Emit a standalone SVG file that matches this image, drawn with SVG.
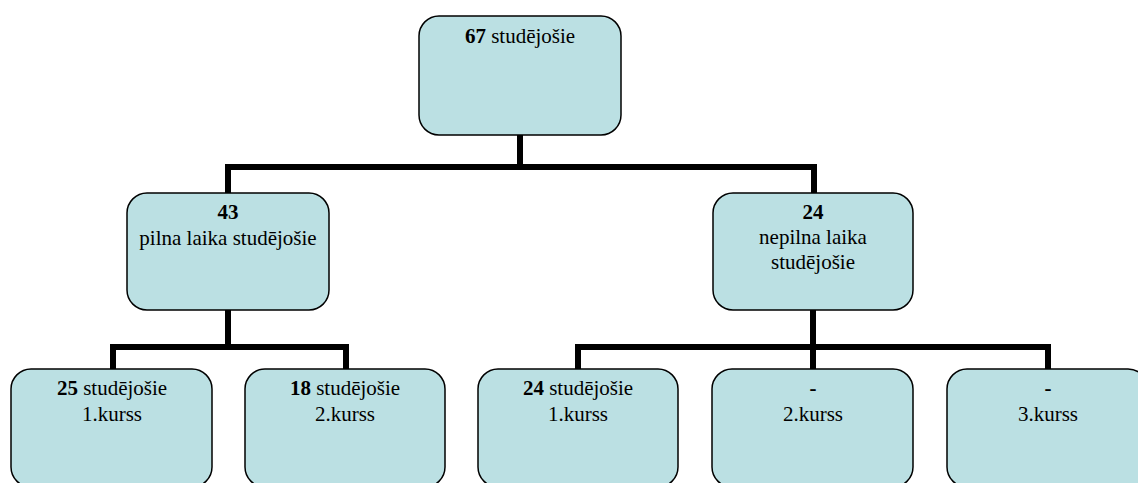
<svg xmlns="http://www.w3.org/2000/svg" width="1138" height="483" viewBox="0 0 1138 483">
<style>
.box{fill:#bbe0e3;stroke:#000;stroke-width:1.5}
.t{font-family:'Liberation Serif','Tinos','Noto Serif','DejaVu Serif',serif;font-size:21px;fill:#000;text-anchor:middle}
.b{font-weight:bold}
.c{fill:none;stroke:#000;stroke-width:6;stroke-linejoin:miter;stroke-linecap:butt}
</style>
<rect width="1138" height="483" fill="#fff"/>
<g id="connectors">
<path class="c" d="M520 135V167M228 193V167H814V193"/>
<path class="c" d="M228 310V347M113 369V347H346V369"/>
<path class="c" d="M813 310V347M578 369V347H1048V369M813 347V369"/>
</g>
<g id="n67">
<rect class="box" x="419" y="16" width="202" height="119" rx="20"/>
<text class="t" x="520" y="43"><tspan class="b">67</tspan> studējošie</text>
</g>
<g id="n43">
<rect class="box" x="127" y="193" width="202" height="117" rx="20"/>
<text class="t" x="228" y="219"><tspan class="b">43</tspan><tspan x="228" dy="26">pilna laika studējošie</tspan></text>
</g>
<g id="n24">
<rect class="box" x="713" y="193" width="200" height="117" rx="20"/>
<text class="t" x="813" y="219"><tspan class="b">24</tspan><tspan x="813" dy="25">nepilna laika</tspan><tspan x="813" dy="25">studējošie</tspan></text>
</g>
<g id="n25">
<rect class="box" x="11" y="369" width="201" height="118" rx="20"/>
<text class="t" x="112" y="395"><tspan class="b">25</tspan> studējošie<tspan x="112" dy="26">1.kurss</tspan></text>
</g>
<g id="n18">
<rect class="box" x="245" y="369" width="200" height="118" rx="20"/>
<text class="t" x="345" y="395"><tspan class="b">18</tspan> studējošie<tspan x="345" dy="26">2.kurss</tspan></text>
</g>
<g id="n24a">
<rect class="box" x="478" y="369" width="200" height="118" rx="20"/>
<text class="t" x="578" y="395"><tspan class="b">24</tspan> studējošie<tspan x="578" dy="26">1.kurss</tspan></text>
</g>
<g id="n2k">
<rect class="box" x="712" y="369" width="201" height="118" rx="20"/>
<text class="t" x="813" y="395"><tspan class="b">-</tspan><tspan x="813" dy="26">2.kurss</tspan></text>
</g>
<g id="n3k">
<rect class="box" x="947" y="369" width="201" height="118" rx="20"/>
<text class="t" x="1048" y="395"><tspan class="b">-</tspan><tspan x="1048" dy="26">3.kurss</tspan></text>
</g>
</svg>
